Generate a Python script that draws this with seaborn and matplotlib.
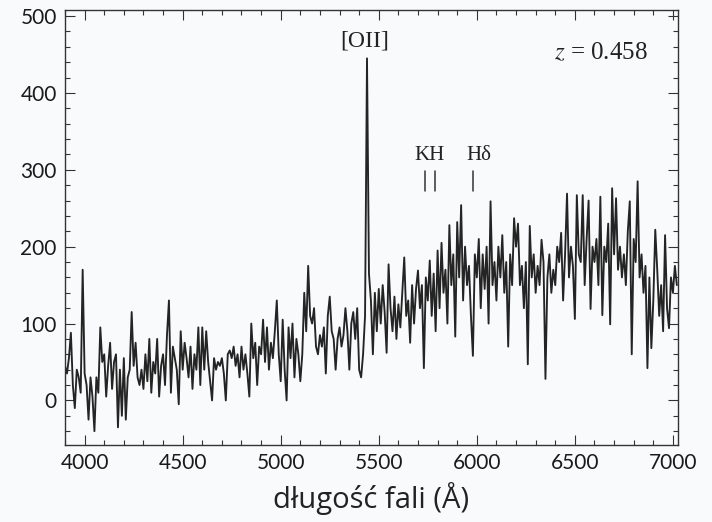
import numpy as np
import pandas as pd
import matplotlib
matplotlib.use("Agg")
import matplotlib.pyplot as plt
import seaborn as sns
from matplotlib.ticker import MultipleLocator

# wavelength grid start / step (Angstrom)
wl_start = 3900
wl_step = 10

flux = [
    45, 35, 55, 88, 20, -10, 40, 30, 10, 170,          # 3900
    35, 20, -25, 30, 5, -40, 30, 10, 95, 50,           # 4000
    60, 5, 45, 75, 15, 50, 60, -35, 40, -20,           # 4100
    55, -25, 30, 40, 115, 45, 75, 30, 20, 40,          # 4200
    15, 60, 25, 80, 10, 50, 35, 80, 5, 45,             # 4300
    60, 20, 85, 130, 10, 70, 55, 40, -5, 90,           # 4400
    40, 75, 55, 30, 70, 15, 60, 40, 95, 20,            # 4500
    95, 40, 90, 50, 25, 0, 55, 40, 50, 45,             # 4600
    55, 35, 0, 60, 65, 55, 70, 45, 60, 30,             # 4700
    70, 40, 60, 35, 5, 100, 55, 75, 20, 70,            # 4800
    60, 105, 50, 95, 40, 75, 55, 90, 130, 60,          # 4900
    25, 105, 40, 0, 95, 55, 100, 30, 80, 60,           # 5000
    25, 60, 140, 90, 175, 110, 100, 120, 70, 60,       # 5100
    85, 70, 95, 35, 110, 135, 90, 80, 40, 80,          # 5200
    95, 70, 85, 120, 90, 40, 100, 115, 80, 120,        # 5300
    40, 30, 60, 110, 445, 165, 130, 60, 140, 90,       # 5400
    145, 100, 150, 115, 62, 177, 120, 90, 135, 80,     # 5500
    125, 95, 140, 186, 110, 130, 75, 150, 100, 145,    # 5600
    169, 120, 150, 42, 160, 130, 182, 110, 165, 90,    # 5700
    195, 120, 205, 140, 170, 100, 228, 150, 190, 83,   # 5800
    232, 160, 254, 130, 200, 150, 175, 110, 58, 190,   # 5900
    160, 210, 120, 190, 145, 200, 100, 259, 150, 180,  # 6000
    130, 200, 160, 215, 140, 180, 70, 190, 150, 237,   # 6100
    200, 230, 150, 175, 120, 180, 47, 227, 160, 190,   # 6200
    140, 175, 150, 209, 180, 28, 160, 190, 140, 170,   # 6300
    150, 200, 180, 218, 130, 190, 269, 160, 200, 175,  # 6400
    106, 267, 190, 180, 267, 150, 210, 260, 119, 200,  # 6500
    180, 210, 150, 265, 111, 200, 180, 230, 99, 276,   # 6600
    190, 263, 170, 200, 160, 190, 150, 220, 259, 60,   # 6700
    210, 180, 285, 160, 190, 140, 175, 42, 160, 68,    # 6800
    130, 222, 170, 110, 150, 90, 215, 120, 94, 160,    # 6900
    140, 175, 150,                                     # 7000
]

wavelength = [wl_start + wl_step * i for i in range(len(flux))]

line_names = ["K", "H", "H\u03b4"]
line_wl = [5734, 5785, 5981]

df = pd.DataFrame({"wl": wavelength, "flux": flux})

sns.set_style("ticks")
plt.rcParams["font.family"] = ["Lato", "DejaVu Sans"]
plt.rcParams["mathtext.fontset"] = "stix"

fig = plt.figure(figsize=(7.12, 5.22), dpi=100)
fig.patch.set_facecolor("#f9fafc")
ax = fig.add_axes([0.0913, 0.1475, 0.8607, 0.8335])
ax.set_facecolor("#f9fafc")

sns.lineplot(data=df, x="wl", y="flux", ax=ax, color="#242424", lw=1.35,
             estimator=None, sort=False)

ax.set_xlim(3900, 7025)
ax.set_ylim(-58, 508)
ax.xaxis.set_major_locator(MultipleLocator(500))
ax.xaxis.set_minor_locator(MultipleLocator(100))
ax.yaxis.set_major_locator(MultipleLocator(100))
ax.yaxis.set_minor_locator(MultipleLocator(20))
ax.tick_params(which="both", direction="in", top=True, right=True,
               color="#333333", width=0.8)
ax.tick_params(which="major", length=7, labelsize=15, pad=6, labelcolor="#1a1a1a")
ax.tick_params(which="minor", length=3.5)
for s in ax.spines.values():
    s.set_color("#333333")
    s.set_linewidth(1.0)

ax.set_xlabel("d\u0142ugo\u015b\u0107 fali (\u00c5)", fontsize=21,
              family=["Open Sans", "DejaVu Sans"], color="#222222", labelpad=6)
ax.set_ylabel("")

serif = ["Liberation Serif", "DejaVu Serif"]
ax.text(5430, 468, "[OII]", ha="center", va="center", fontsize=17,
        family=serif, color="#222222")
ax.text(6633, 452, "$z$ = 0.458", ha="center", va="center", fontsize=18,
        family=serif, color="#222222")
ax.text(5760, 318, "KH", ha="center", va="center", fontsize=15,
        family=serif, color="#222222")
ax.text(6010, 318, "H\u03b4", ha="center", va="center", fontsize=15,
        family=serif, color="#222222")
for w in line_wl:
    ax.plot([w, w], [272, 299], color="#333333", lw=1.1)

fig.savefig("out.png", dpi=100, facecolor=fig.get_facecolor())
